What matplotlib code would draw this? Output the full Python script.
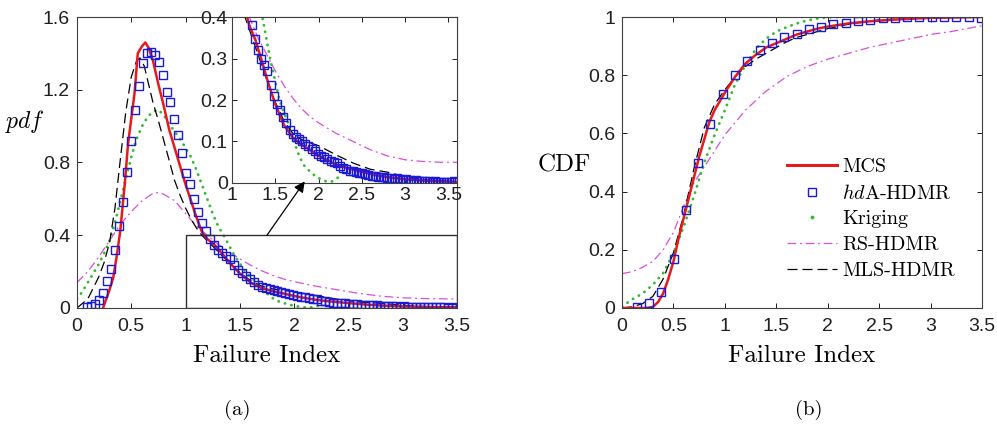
import numpy as np
import matplotlib
matplotlib.use('Agg')
import matplotlib.pyplot as plt
from matplotlib.lines import Line2D
from matplotlib.patches import Rectangle

plt.rcParams['mathtext.fontset'] = 'cm'
plt.rcParams['font.family'] = 'Liberation Sans'

# ---- pdf curves ----
mcs_x = [0.24, 0.27, 0.30, 0.335, 0.37, 0.40, 0.44, 0.47, 0.50, 0.53, 0.56, 0.60, 0.63, 0.66, 0.70, 0.75,
         0.80, 0.85, 0.90, 0.95, 1.00, 1.05, 1.10, 1.15, 1.20, 1.27, 1.35, 1.42, 1.50, 1.60, 1.70, 1.80,
         1.90, 2.00, 2.10, 2.20, 2.35, 2.50, 2.66, 2.80, 3.00, 3.20, 3.40, 3.60]
mcs_pdf = [0.0, 0.05, 0.10, 0.17, 0.30, 0.43, 0.68, 0.90, 1.04, 1.18, 1.40, 1.44, 1.46, 1.43, 1.36, 1.23,
           1.11, 0.98, 0.88, 0.78, 0.68, 0.59, 0.50, 0.42, 0.38, 0.345, 0.29, 0.24, 0.19, 0.14, 0.11, 0.093,
           0.08, 0.066, 0.055, 0.045, 0.035, 0.027, 0.019, 0.014, 0.009, 0.006, 0.004, 0.003]

hda_pdf = [0.005, 0.012, 0.02, 0.045, 0.085, 0.15, 0.215, 0.32, 0.45, 0.585,
           0.75, 0.92, 1.09, 1.22, 1.345, 1.40, 1.405, 1.39, 1.35, 1.28,
           1.19, 1.13, 1.04, 0.95, 0.85, 0.74, 0.68, 0.60, 0.53, 0.47,
           0.425, 0.38, 0.346, 0.32, 0.30, 0.285, 0.27, 0.235, 0.21, 0.19,
           0.175, 0.16, 0.145, 0.128, 0.118, 0.11, 0.105, 0.10, 0.094, 0.088,
           0.082, 0.077, 0.07, 0.066, 0.062, 0.058, 0.053, 0.05, 0.047, 0.04,
           0.036, 0.033, 0.03, 0.028, 0.026, 0.025, 0.023, 0.022, 0.02, 0.018,
           0.016, 0.015, 0.014, 0.014, 0.013, 0.012, 0.01, 0.011, 0.009, 0.008,
           0.009, 0.007, 0.006, 0.007, 0.005, 0.005, 0.004, 0.005, 0.003, 0.004,
           0.003, 0.002, 0.003, 0.002, 0.002, 0.004, 0.003]
# histogram bin centres
hda_x = 0.095 + 0.0365 * np.arange(len(hda_pdf))

krg_x = [0.0, 0.05, 0.1, 0.15, 0.2, 0.25, 0.3, 0.35, 0.4, 0.45, 0.5, 0.55, 0.6, 0.65, 0.7, 0.75, 0.8,
         0.85, 0.9, 0.95, 1.0, 1.05, 1.1, 1.15, 1.2, 1.25, 1.3, 1.36, 1.44, 1.5, 1.55, 1.6, 1.65, 1.7,
         1.78, 1.84, 1.9, 1.95, 2.0, 2.05, 2.1, 2.15, 2.2, 2.24]
krg_pdf = [0.05, 0.09, 0.14, 0.19, 0.24, 0.3, 0.37, 0.47, 0.59, 0.71, 0.83, 0.93, 1.0, 1.05, 1.08, 1.09,
           1.06, 1.01, 0.97, 0.93, 0.88, 0.83, 0.76, 0.68, 0.60, 0.52, 0.45, 0.39, 0.30, 0.245, 0.2, 0.17,
           0.144, 0.11, 0.063, 0.04, 0.028, 0.019, 0.012, 0.007, 0.003, 0.003, 0.01, 0.015]

rs_x = [0.0, 0.1, 0.2, 0.3, 0.4, 0.5, 0.6, 0.7, 0.75, 0.8, 0.9, 1.0, 1.1, 1.2, 1.3, 1.4, 1.5, 1.6, 1.7,
        1.8, 1.9, 2.0, 2.2, 2.4, 2.6, 2.8, 3.0, 3.2, 3.4, 3.6]
rs_pdf = [0.14, 0.2, 0.28, 0.37, 0.46, 0.53, 0.59, 0.63, 0.635, 0.625, 0.59, 0.52, 0.45, 0.40, 0.35,
          0.31, 0.27, 0.235, 0.205, 0.18, 0.16, 0.145, 0.12, 0.10, 0.08, 0.065, 0.056, 0.052, 0.05, 0.05]

mls_x = [0.0, 0.1, 0.2, 0.25, 0.3, 0.35, 0.4, 0.45, 0.5, 0.55, 0.58, 0.62, 0.66, 0.7, 0.75, 0.8, 0.85,
         0.9, 0.95, 1.0, 1.05, 1.1, 1.15, 1.2, 1.3, 1.4, 1.5, 1.6, 1.7, 1.8, 1.9, 2.0, 2.2, 2.4, 2.6,
         2.8, 3.0, 3.2, 3.5, 3.6]
mls_pdf = [0.0, 0.05, 0.17, 0.25, 0.36, 0.55, 0.82, 1.08, 1.27, 1.36, 1.375, 1.33, 1.23, 1.13, 1.03,
           0.92, 0.81, 0.70, 0.62, 0.55, 0.49, 0.44, 0.40, 0.37, 0.31, 0.25, 0.195, 0.15, 0.12, 0.105,
           0.097, 0.09, 0.068, 0.048, 0.033, 0.026, 0.015, 0.008, 0.004, 0.003]

# ---- CDF curves ----
mcs_cx = [0, 0.25, 0.3, 0.35, 0.4, 0.45, 0.5, 0.55, 0.6, 0.65, 0.7, 0.75, 0.8, 0.85, 0.9, 0.95, 1.0,
          1.1, 1.2, 1.3, 1.4, 1.5, 1.6, 1.7, 1.8, 1.9, 2.0, 2.2, 2.4, 2.6, 2.8, 3.0, 3.5]
mcs_cdf = [0, 0, 0.004, 0.02, 0.05, 0.1, 0.16, 0.24, 0.31, 0.38, 0.45, 0.52, 0.58, 0.64, 0.68, 0.71,
           0.74, 0.795, 0.84, 0.87, 0.895, 0.91, 0.925, 0.94, 0.95, 0.96, 0.967, 0.978, 0.985, 0.99,
           0.994, 0.997, 1.0]

hda_cdf = [0.003, 0.016, 0.056, 0.17, 0.336, 0.498, 0.632, 0.735, 0.80, 0.849,
           0.886, 0.912, 0.932, 0.943, 0.958, 0.966, 0.977, 0.981, 0.986, 0.99,
           0.995, 0.996, 0.999, 0.999, 0.999, 0.999, 0.999, 0.999, 0.998]
hda_cx = 0.143 + 0.1195 * np.arange(len(hda_cdf))

krg_cx = [0, 0.1, 0.2, 0.3, 0.4, 0.5, 0.6, 0.7, 0.8, 0.9, 1.0, 1.1, 1.2, 1.3, 1.4, 1.5, 1.6, 1.7, 1.8,
          1.9, 2.0, 2.2, 2.5, 3.0, 3.5]
krg_cdf = [0.005, 0.03, 0.05, 0.08, 0.12, 0.187, 0.28, 0.385, 0.5, 0.595, 0.68, 0.77, 0.835, 0.89,
           0.925, 0.95, 0.965, 0.978, 0.988, 0.995, 0.999, 1.0, 1.0, 1.0, 1.0]

rs_cx = [0, 0.1, 0.2, 0.3, 0.4, 0.5, 0.6, 0.7, 0.8, 0.9, 1.0, 1.2, 1.4, 1.6, 1.8, 2.0, 2.2, 2.4, 2.6,
         2.8, 3.0, 3.2, 3.5]
rs_cdf = [0.118, 0.125, 0.14, 0.16, 0.2, 0.26, 0.35, 0.43, 0.485, 0.54, 0.595, 0.68, 0.745, 0.795,
          0.83, 0.855, 0.875, 0.895, 0.91, 0.925, 0.94, 0.95, 0.97]

mls_cx = [0, 0.1, 0.2, 0.3, 0.4, 0.5, 0.6, 0.7, 0.8, 0.9, 1.0, 1.1, 1.2, 1.3, 1.4, 1.5, 1.6, 1.7, 1.8,
          1.9, 2.0, 2.2, 2.5, 3.0, 3.5]
mls_cdf = [0.0, 0.004, 0.015, 0.04, 0.1, 0.19, 0.32, 0.48, 0.62, 0.7, 0.75, 0.795, 0.83, 0.855, 0.875,
           0.895, 0.915, 0.93, 0.94, 0.95, 0.96, 0.975, 0.99, 0.998, 1.0]

names = ['MCS', r'$hd$A-HDMR', 'Kriging', 'RS-HDMR', 'MLS-HDMR']

red = '#e8191c'
blue = '#1a1ad8'
green = '#33bb33'
magenta = '#d94fd9'
axcol = '#404040'
serif = 'cmr10'


def draw_curves(ax, data):
    (mx, my), (hx, hy), (kx, ky), (rx, ry), (lx, ly) = data
    ax.plot(rx, ry, color=magenta, lw=0.9, linestyle=(0, (7, 3, 1.5, 3)))
    ax.plot(kx, ky, color=green, lw=2.0, linestyle=(0, (0.1, 2.3)), dash_capstyle='round')
    ax.plot(lx, ly, color='k', lw=0.9, linestyle=(0, (8, 4)))
    ax.plot(mx, my, color=red, lw=1.8)
    ax.plot(hx, hy, linestyle='none', marker='s', markersize=5.5, markerfacecolor='none',
            markeredgecolor=blue, markeredgewidth=1.0)


def style(ax):
    ax.tick_params(direction='in', top=True, right=True, length=3.5, width=0.7,
                   labelsize=14, colors='#202020', pad=5)
    ax.tick_params(axis='x', pad=7)
    for s in ax.spines.values():
        s.set_color(axcol)
        s.set_linewidth(0.8)


fig = plt.figure(figsize=(9.97, 4.24), dpi=100)

# (a) pdf
ax1 = fig.add_axes([0.0772, 0.2736, 0.3811, 0.6863])
draw_curves(ax1, [(mcs_x, mcs_pdf), (hda_x, hda_pdf), (krg_x, krg_pdf), (rs_x, rs_pdf), (mls_x, mls_pdf)])
ax1.set_xlim(0, 3.5)
ax1.set_ylim(0, 1.6)
ax1.set_xticks([0, 0.5, 1, 1.5, 2, 2.5, 3, 3.5])
ax1.set_xticklabels(['0', '0.5', '1', '1.5', '2', '2.5', '3', '3.5'])
ax1.set_yticks([0, 0.4, 0.8, 1.2, 1.6])
ax1.set_yticklabels(['0', '0.4', '0.8', '1.2', '1.6'])
style(ax1)
ax1.set_xlabel('Failure Index', family=serif, fontsize=18, labelpad=7)
ax1.set_ylabel(r'$pdf$', fontsize=17, rotation=0, va='center', ha='center')
ax1.yaxis.set_label_coords(-0.137, 0.64)
ax1.add_patch(Rectangle((1, 0), 2.5, 0.4, fill=False, edgecolor='#303030', lw=1.0, zorder=5))

# zoomed tail
ins = fig.add_axes([0.2327, 0.5684, 0.2257, 0.3915])
draw_curves(ins, [(mcs_x, mcs_pdf), (hda_x, hda_pdf), (krg_x, krg_pdf), (rs_x, rs_pdf), (mls_x, mls_pdf)])
ins.set_xlim(1, 3.6)
ins.set_ylim(0, 0.4)
ins.set_xticks([1, 1.5, 2, 2.5, 3, 3.5])
ins.set_xticklabels(['1', '1.5', '2', '2.5', '3', '3.5'])
ins.set_yticks([0, 0.1, 0.2, 0.3, 0.4])
ins.set_yticklabels(['0', '0.1', '0.2', '0.3', '0.4'])
style(ins)
ins.tick_params(pad=3)
ins.annotate('', xy=(1.84, 0.004), xycoords=ins.transData,
             xytext=(1.75, 0.4), textcoords=ax1.transData,
             arrowprops=dict(arrowstyle='-|>', color='k', lw=0.9, mutation_scale=16,
                             shrinkA=0, shrinkB=0),
             annotation_clip=False)

# (b) CDF
ax2 = fig.add_axes([0.6239, 0.2736, 0.3611, 0.6863])
draw_curves(ax2, [(mcs_cx, mcs_cdf), (hda_cx, hda_cdf), (krg_cx, krg_cdf), (rs_cx, rs_cdf), (mls_cx, mls_cdf)])
ax2.set_xlim(0, 3.5)
ax2.set_ylim(0, 1)
ax2.set_xticks([0, 0.5, 1, 1.5, 2, 2.5, 3, 3.5])
ax2.set_xticklabels(['0', '0.5', '1', '1.5', '2', '2.5', '3', '3.5'])
ax2.set_yticks([0, 0.2, 0.4, 0.6, 0.8, 1])
ax2.set_yticklabels(['0', '0.2', '0.4', '0.6', '0.8', '1'])
style(ax2)
ax2.set_xlabel('Failure Index', family=serif, fontsize=18, labelpad=7)
ax2.set_ylabel('CDF', family=serif, fontsize=18, rotation=0, va='center', ha='center')
ax2.yaxis.set_label_coords(-0.161, 0.49)

handles = [Line2D([], [], color=red, lw=2.2),
           Line2D([], [], linestyle='none', marker='s', markersize=5.5, markerfacecolor='none',
                  markeredgecolor=blue, markeredgewidth=1.0),
           Line2D([], [], linestyle='none', marker='.', markersize=3.5, color=green),
           Line2D([], [], color=magenta, lw=0.9, linestyle=(0, (7, 3, 1.5, 3))),
           Line2D([], [], color='k', lw=0.9, linestyle=(0, (8, 4)))]
leg = ax2.legend(handles, names, loc='upper left', bbox_to_anchor=(0.458, 0.516), frameon=False,
                 handlelength=2.5, handletextpad=0.25, labelspacing=0.38, borderaxespad=0,
                 borderpad=0, prop={'family': serif, 'size': 14.5})

fig.text(0.238, 0.033, '(a)', family=serif, fontsize=15, ha='center', va='center')
fig.text(0.811, 0.033, '(b)', family=serif, fontsize=15, ha='center', va='center')

fig.savefig('out.png', dpi=100)
plt.close(fig)
